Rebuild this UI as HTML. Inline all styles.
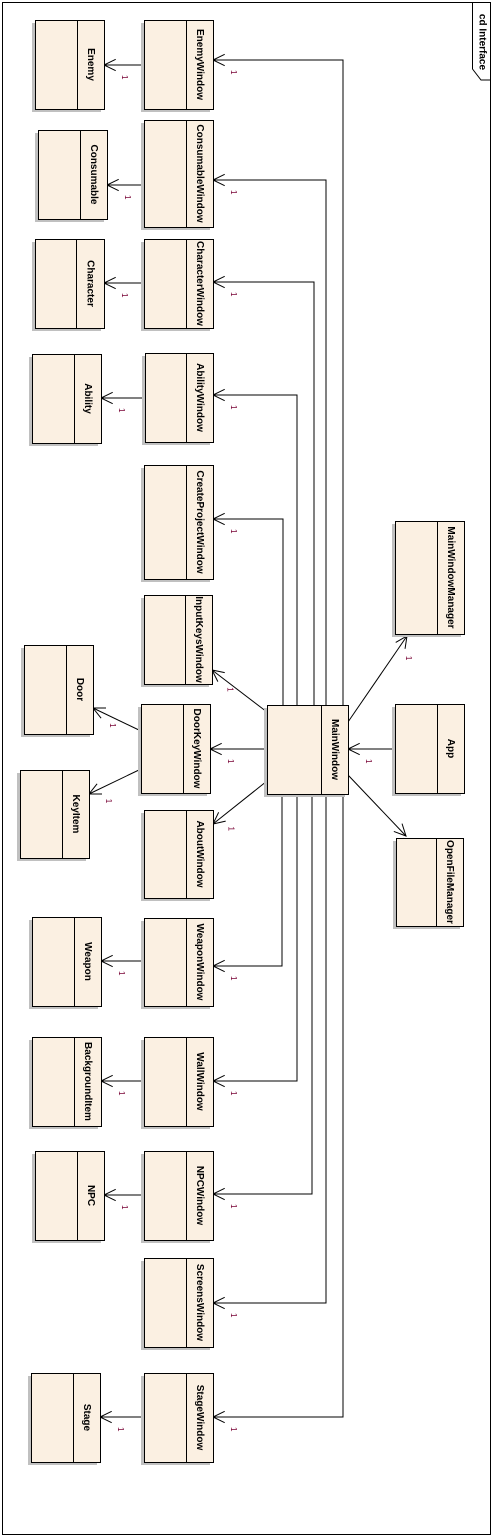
<!DOCTYPE html>
<html><head><meta charset="utf-8"><style>
html,body{margin:0;padding:0;background:#fff}
svg{display:block}
text{font-family:"Liberation Sans",sans-serif;font-size:10px;font-weight:bold;fill:#000}
.m{font-size:8px;font-weight:normal;fill:#703}
.b{fill:#fbf0e2;stroke:#000;stroke-width:1}
.s{fill:#c0c0c0}
.l{stroke:#000;stroke-width:1;fill:none}
</style></head><body>
<svg width="495" height="1538" viewBox="0 0 495 1538" xmlns="http://www.w3.org/2000/svg">
<rect x="2.5" y="2.5" width="488" height="1532" fill="#fff" stroke="#000"/>
<path class="l" d="M472.5 3 V69 L481 80 H491"/>
<text transform="rotate(90 482 42)" x="482" y="42" text-anchor="middle" dominant-baseline="central" style="font-weight:bold;font-size:10px">cd Interface</text>
<script>
const B=[
["Enemy",35,20,69,89,77],["EnemyWindow",144,20,69,89,186],
["Consumable",38,130,69,89,80],["ConsumableWindow",144,120,69,107,186],
["Character",35,239,69,89,76],["CharacterWindow",144,239,69,89,186],
["Ability",32,354,69,89,74],["AbilityWindow",145,353,68,89,186],
["CreateProjectWindow",144,465,69,114,186],["InputKeysWindow",144,595,68,89,185],
["Door",24,645,69,89,66],["DoorKeyWindow",141,704,69,89,183],
["KeyItem",20,770,69,88,62],["AboutWindow",144,810,69,88,186],
["MainWindow",267,705,81,89,321],["App",395,704,69,89,437],
["MainWindowManager",395,521,69,113,437],["OpenFileManager",396,838,67,88,436],
["Weapon",32,917,69,89,74],["WeaponWindow",144,918,69,88,186],
["BackgroundItem",32,1037,69,89,74],["WallWindow",144,1037,69,89,186],
["NPC",35,1151,69,89,77],["NPCWindow",144,1151,69,89,186],
["ScreensWindow",144,1258,69,89,186],
["Stage",31,1373,69,89,73],["StageWindow",144,1373,69,89,186]];
const NS="http://www.w3.org/2000/svg";
const svg=document.querySelector("svg");
function el(t,a,txt){const e=document.createElementNS(NS,t);for(const k in a)e.setAttribute(k,a[k]);if(txt)e.textContent=txt;svg.appendChild(e);return e;}
const L=[
"144,65 104,65","144,185 107,185","144,283 104,283","144,398 101,398",
"144,961 101,961","144,1081 101,1081","144,1195 104,1195","144,1417 100,1417",
"343,705 343,60 213,60","326,705 326,180 213,180","314,705 314,282 213,282",
"297,705 297,395 213,395","283,705 283,519 213,519",
"282,794 282,966 213,966","297,794 297,1081 213,1081","312,794 312,1194 213,1194",
"326,794 326,1303 213,1303","343,794 343,1417 213,1417",
"267,749 210,749","267,712 212,670","267,781 213,824",
"141,731 93,708","141,769 89,794",
"395,749 348,749","348,722 407,636","348,775 406,836"];
for(const s of L){const p=s.split(" ").map(q=>q.split(",").map(Number));
 el("polyline",{points:s,class:"l"});
 const a=p[p.length-1],b=p[p.length-2];const ang=Math.atan2(a[1]-b[1],a[0]-b[0]);
 const d=13,w=0.45;
 const p1=[a[0]-d*Math.cos(ang-w),a[1]-d*Math.sin(ang-w)],p2=[a[0]-d*Math.cos(ang+w),a[1]-d*Math.sin(ang+w)];
 el("polyline",{points:`${p1} ${a} ${p2}`,class:"l"});
 el("text",{class:"m",x:a[0]-12*Math.cos(ang)+6,y:a[1]-12*Math.sin(ang)+10,transform:`rotate(90 ${a[0]-12*Math.cos(ang)+6} ${a[1]-12*Math.sin(ang)+10})`},"1");
}
for(const [n,x,y,w,h,dv] of B){
 el("rect",{class:"s",x:x-3,y:y+3,width:w,height:h});
 el("rect",{class:"b",x:x+.5,y:y+.5,width:w,height:h});
 el("line",{class:"l",x1:dv+.5,y1:y,x2:dv+.5,y2:y+h});
 const cx=(dv+x+w)/2,cy=y+h/2;
 el("text",{x:cx,y:cy,"text-anchor":"middle","dominant-baseline":"central",transform:`rotate(90 ${cx} ${cy})`},n);
}
</script>
</svg>
</body></html>
